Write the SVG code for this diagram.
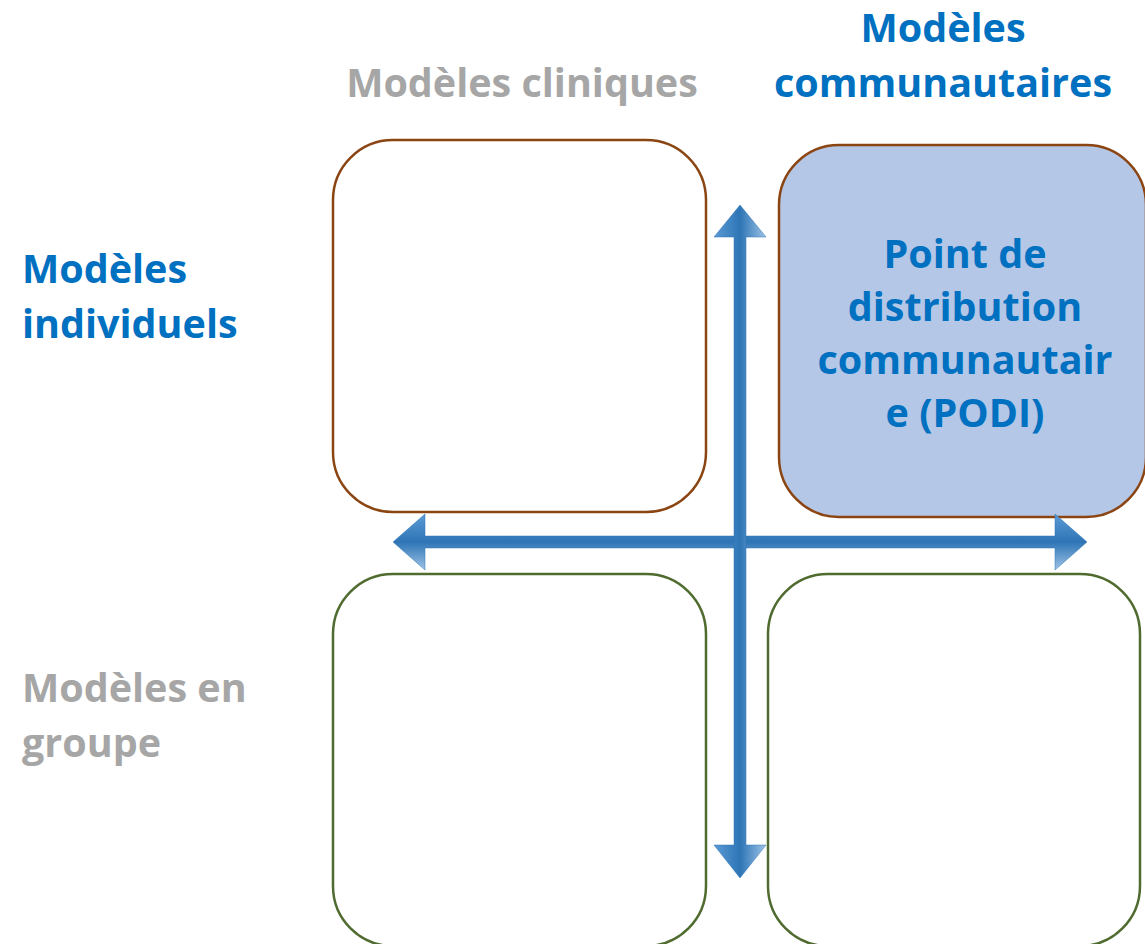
<svg xmlns="http://www.w3.org/2000/svg" width="1145" height="944" viewBox="0 0 1145 944">
<style>
.t{font-family:"Open Sans","Liberation Sans",sans-serif;font-weight:bold;font-size:39.5px}
.blue{fill:#0070C0}
.gray{fill:#A6A6A6}
.brown{fill:#fff;stroke:#8B4513;stroke-width:2.5}
.green{fill:#fff;stroke:#4F6B2F;stroke-width:2.5}
</style>
<defs>
<linearGradient id="gv" x1="0" y1="0" x2="1" y2="0">
<stop offset="0" stop-color="#5B9BD5"/><stop offset="0.5" stop-color="#2E75B6"/><stop offset="1" stop-color="#9DC3E6"/>
</linearGradient>
<linearGradient id="gh" x1="0" y1="0" x2="0" y2="1">
<stop offset="0" stop-color="#5B9BD5"/><stop offset="0.5" stop-color="#2E75B6"/><stop offset="1" stop-color="#9DC3E6"/>
</linearGradient>
</defs>
<g id="labels">
<text class="t blue" x="943" y="42" text-anchor="middle">Modèles</text>
<text class="t blue" x="943" y="97" text-anchor="middle">communautaires</text>
<text class="t gray" x="522" y="97" text-anchor="middle">Modèles cliniques</text>
<text class="t blue" x="22" y="283">Modèles</text>
<text class="t blue" x="22" y="338">individuels</text>
<text class="t gray" x="22" y="702">Modèles en</text>
<text class="t gray" x="22" y="757">groupe</text>
</g>
<g id="box-tl"><rect class="brown" x="333" y="140" width="373" height="372" rx="60"/></g>
<g id="box-tr">
<rect x="779" y="145" width="367" height="372" rx="60" fill="#B4C7E7" stroke="#8B4513" stroke-width="2.5"/>
<text class="t blue" text-anchor="middle" x="965" y="268">Point de</text>
<text class="t blue" text-anchor="middle" x="965" y="321">distribution</text>
<text class="t blue" text-anchor="middle" x="965" y="374">communautair</text>
<text class="t blue" text-anchor="middle" x="965" y="427">e (PODI)</text>
</g>
<g id="box-bl"><rect class="green" x="333" y="574" width="373" height="372" rx="60"/></g>
<g id="box-br"><rect class="green" x="768" y="574" width="372" height="372" rx="60"/></g>
<g id="connectors">
<polygon fill="url(#gh)" stroke="#2E75B6" stroke-width="0.5" points="393,542 425,514 425,536 1055,536 1055,514 1087,542 1055,570 1055,548 425,548 425,570"/>
<polygon fill="url(#gv)" stroke="#2E75B6" stroke-width="0.5" points="740,205 766,237 746,237 746,845 766,845 740,878 714,845 734,845 734,237 714,237"/>
</g>
</svg>
